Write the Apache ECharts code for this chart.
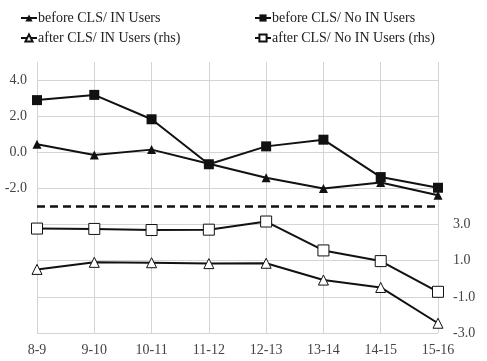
<!DOCTYPE html>
<html>
<head>
<meta charset="utf-8">
<script src="https://cdn.jsdelivr.net/npm/echarts@6/dist/echarts.min.js"></script>
<style>html,body{margin:0;padding:0;background:#fff;}#c{width:487px;height:361px;}</style>
</head>
<body>
<div id="c"></div>
<script>
var categories = ['8-9','9-10','10-11','11-12','12-13','13-14','14-15','15-16'];
var beforeIN = [0.45, -0.15, 0.15, -0.63, -1.41, -2.0, -1.67, -2.37];
var beforeNoIN = [2.89, 3.18, 1.83, -0.66, 0.33, 0.7, -1.37, -1.96];
var afterIN = [0.52, 0.91, 0.89, 0.84, 0.86, -0.07, -0.48, -2.46];
var afterNoIN = [2.78, 2.76, 2.70, 2.72, 3.17, 1.57, 0.98, -0.72];
var leftTicks = [4, 2, 0, -2];
var rightTicks = [3, 1, -1, -3];
var separatorValue = -3;

var FONT = 'Liberation Serif';
var chart = echarts.init(document.getElementById('c'), null, {renderer: 'canvas'});
function lineSeries(name, data, symbol, filled, yIdx, size) {
  return {
    name: name, type: 'line', data: data, yAxisIndex: yIdx,
    symbol: symbol, symbolSize: size, showAllSymbol: true,
    lineStyle: {color: '#111', width: 2},
    itemStyle: {color: filled ? '#111' : '#fff', borderColor: '#111', borderWidth: filled ? 0 : 1},
    emphasis: {disabled: true}, animation: false, z: 3
  };
}
var s1 = lineSeries('before CLS/ IN Users', beforeIN, 'triangle', true, 0, 9);
s1.markLine = {
  silent: true, symbol: ['none','none'], label: {show: false}, animation: false,
  lineStyle: {color: '#111', type: [8, 5], width: 2.5},
  data: [{yAxis: separatorValue}]
};
var option = {
  animation: false,
  backgroundColor: '#fff',
  textStyle: {fontFamily: FONT},
  legend: [
    {left: 15, top: 6, orient: 'vertical', itemGap: 6, itemWidth: 16, itemHeight: 9,
     textStyle: {fontFamily: FONT, fontSize: 14, color: '#222', padding: [0,0,0,-4]},
     data: ['before CLS/ IN Users', 'after CLS/ IN Users (rhs)']},
    {left: 249, top: 6, orient: 'vertical', itemGap: 6, itemWidth: 16, itemHeight: 9,
     textStyle: {fontFamily: FONT, fontSize: 14, color: '#222', padding: [0,0,0,-4]},
     data: ['before CLS/ No IN Users', 'after CLS/ No IN Users (rhs)']}
  ],
  grid: {left: 37, right: 49, top: 62, bottom: 28, containLabel: false},
  xAxis: {
    type: 'category', data: categories, boundaryGap: false,
    axisLine: {show: true, lineStyle: {color: '#d4d4d4', width: 1}},
    axisTick: {show: false},
    splitLine: {show: true, lineStyle: {color: '#d4d4d4', width: 1}},
    axisLabel: {fontFamily: FONT, fontSize: 14, color: '#444', margin: 10}
  },
  yAxis: [
    {type: 'value', min: -10, max: 5, interval: 2, position: 'left',
     axisLine: {show: false}, axisTick: {show: false},
     splitLine: {show: true, showMaxLine: false, lineStyle: {color: '#d4d4d4', width: 1}},
     axisLabel: {fontFamily: FONT, fontSize: 14, color: '#444', margin: 10,
       formatter: function(v){ return leftTicks.indexOf(v) >= 0 ? v.toFixed(1) : ''; }}},
    {type: 'value', min: -3, max: 12, interval: 2, position: 'right',
     axisLine: {show: false}, axisTick: {show: false}, splitLine: {show: false},
     axisLabel: {fontFamily: FONT, fontSize: 14, color: '#444', margin: 15,
       formatter: function(v){ return rightTicks.indexOf(v) >= 0 ? v.toFixed(1) : ''; }}}
  ],
  series: [
    s1,
    lineSeries('before CLS/ No IN Users', beforeNoIN, 'rect', true, 0, 10),
    lineSeries('after CLS/ IN Users (rhs)', afterIN, 'triangle', false, 1, 10),
    lineSeries('after CLS/ No IN Users (rhs)', afterNoIN, 'rect', false, 1, 11)
  ]
};
chart.setOption(option);
</script>
</body>
</html>
